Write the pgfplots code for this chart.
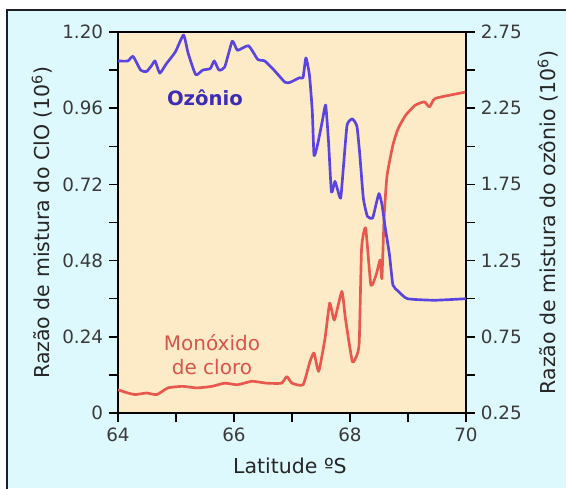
\documentclass[border=0pt]{standalone}
\usepackage{pgfplots}
\pgfplotsset{compat=1.18}
\usepackage{fontspec}
\setmainfont{DejaVu Sans}
\definecolor{bgcyan}{HTML}{DDF9FD}
\definecolor{plotbg}{HTML}{FCEBC6}
\definecolor{ozone}{HTML}{5A44E0}
\definecolor{clo}{HTML}{E8584E}
\definecolor{ozonetext}{HTML}{3D2DB5}
\definecolor{clotext}{HTML}{D9544C}
\definecolor{ticktext}{HTML}{3A3A3A}
\definecolor{frame}{HTML}{1E1E28}

\pgfplotstableread{
lat o3
64.00 2.56
64.17 2.56
64.26 2.59
64.39 2.50
64.49 2.49
64.58 2.53
64.64 2.56
64.72 2.48
64.83 2.54
64.99 2.62
65.13 2.73
65.21 2.61
65.34 2.47
65.46 2.50
65.59 2.51
65.66 2.56
65.74 2.50
65.84 2.52
65.97 2.69
66.06 2.63
66.25 2.66
66.41 2.57
66.53 2.56
66.69 2.50
66.88 2.42
66.97 2.42
67.13 2.45
67.19 2.45
67.24 2.58
67.30 2.47
67.35 2.23
67.38 1.94
67.44 2.01
67.52 2.16
67.58 2.27
67.63 2.03
67.68 1.70
67.74 1.77
67.79 1.71
67.84 1.66
67.89 1.88
67.95 2.14
68.04 2.18
68.12 2.13
68.17 1.94
68.23 1.66
68.30 1.54
68.39 1.53
68.45 1.62
68.50 1.69
68.55 1.62
68.61 1.46
68.68 1.29
68.74 1.09
68.83 1.05
68.99 1.00
69.46 0.99
70.00 1.00
}\ozonetable

\pgfplotstableread{
lat clo
64.00 0.073
64.17 0.063
64.30 0.058
64.49 0.063
64.67 0.058
64.86 0.079
65.11 0.084
65.36 0.079
65.62 0.084
65.84 0.094
66.06 0.089
66.31 0.100
66.56 0.094
66.82 0.094
66.91 0.115
67.00 0.094
67.19 0.089
67.31 0.162
67.38 0.189
67.46 0.131
67.57 0.236
67.65 0.346
67.73 0.293
67.86 0.383
67.92 0.299
68.04 0.162
68.12 0.183
68.16 0.225
68.20 0.519
68.27 0.582
68.36 0.403
68.45 0.435
68.52 0.482
68.55 0.424
68.59 0.624
68.64 0.749
68.74 0.844
68.83 0.896
68.96 0.938
69.12 0.969
69.28 0.980
69.37 0.964
69.46 0.990
69.72 1.001
70.00 1.011
}\clotable

\pgfplotsset{
  common/.style={
    scale only axis,
    width=208.8pt, height=228.6pt,
    at={(70.8pt,45pt)}, anchor=south west,
    xmin=64, xmax=70,
    tick align=outside,
    major tick length=5.4pt,
    tick style={black, line width=0.9pt},
    ticklabel style={font=\fontsize{11}{13}\selectfont, text=ticktext},
    /pgf/number format/assume math mode=true,
    label style={font=\fontsize{12.3}{14}\selectfont, text=black!85},
  }
}

\begin{document}
\begin{tikzpicture}
\path[use as bounding box] (0,0) rectangle (339.6pt,292.8pt);
\fill[white] (0,0) rectangle (339.6pt,292.8pt);
\fill[bgcyan] (4.2pt,0) rectangle (339.6pt,286.8pt);
\draw[line width=1.1pt, frame] (4.2pt,-5pt) -- (4.2pt,286.8pt) -- (345pt,286.8pt);

\begin{axis}[common,
  axis background/.style={fill=plotbg},
  axis line style={line width=1.7pt, black},
  xtick={64,65,66,67,68,69,70},
  xticklabels={64,,66,,68,,70},
  xtick pos=left,
  ytick pos=left,
  ymin=0, ymax=1.2,
  ytick={0,0.12,0.24,0.36,0.48,0.60,0.72,0.84,0.96,1.08,1.20},
  yticklabels={0,,0.24,,0.48,,0.72,,0.96,,1.20},
  xlabel={Latitude ºS},
  ylabel={Razão de mistura do ClO (10\textsuperscript{6})},
  xlabel style={at={(axis description cs:0.494,-0.139)}, anchor=center},
  ylabel style={at={(axis description cs:-0.218,0.5)}, anchor=center},
]
\addplot[clo, line width=1.6pt, line join=round, smooth, tension=0.3] table[x=lat,y=clo]{\clotable};
\node[text=clotext, font=\fontsize{12}{14.5}\selectfont, align=center] at (axis cs:65.62,0.183) {Monóxido\\de cloro};
\node[text=ozonetext, font=\fontsize{11.8}{14}\selectfont\bfseries] at (axis cs:65.5,0.992) {Ozônio};
\end{axis}

\begin{axis}[common,
  axis x line=none,
  axis y line*=right,
  axis line style={line width=1.7pt, black},
  ymin=0.25, ymax=2.75,
  ytick={0.25,0.5,0.75,1.0,1.25,1.5,1.75,2.0,2.25,2.5,2.75},
  yticklabels={0.25,,0.75,,1.25,,1.75,,2.25,,2.75},
  ylabel={Razão de mistura do ozônio (10\textsuperscript{6})},
  ylabel style={at={(axis description cs:1.236,0.5)}, anchor=center},
]
\addplot[ozone, line width=1.6pt, line join=round, smooth, tension=0.3] table[x=lat,y=o3]{\ozonetable};
\end{axis}
\end{tikzpicture}
\end{document}
